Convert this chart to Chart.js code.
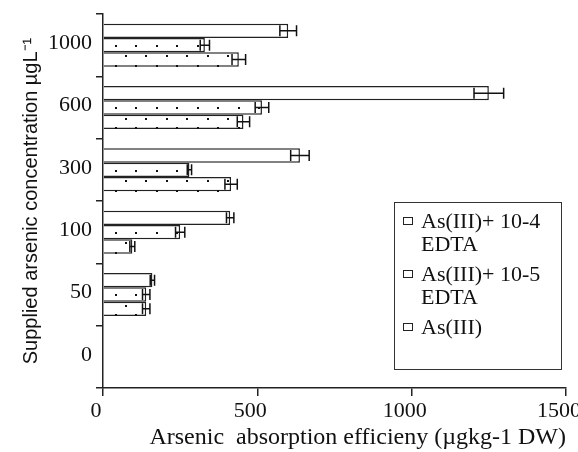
<!DOCTYPE html>
<html>
<head>
<meta charset="utf-8">
<script src="https://cdn.jsdelivr.net/npm/chart.js"></script>
<style>
  body { margin: 0; background: #fff; }
  #wrap { position: relative; width: 578px; height: 452px; }
  #legend {
    position: absolute; left: 394px; top: 202px; width: 168px; height: 168px;
    border: 1.5px solid #333; box-sizing: border-box; padding: 6px 0 0 8px;
    font-family: 'Liberation Serif', serif; font-size: 22px; color: #111;
  }
  .item { display: flex; align-items: flex-start; line-height: 23px; margin-bottom: 7px; }
  .box { width: 8px; height: 6px; border: 1.5px solid #222; margin: 8px 8px 0 0; flex: none; }
</style>
</head>
<body>
<div id="wrap">
  <canvas id="chart" width="578" height="452"></canvas>
  <div id="legend"></div>
</div>
<script>
// supplied concentration (µg/L), top to bottom
const concentrations = ['1000', '600', '300', '100', '50', '0'];
const seriesNames = ['As(III)+ 10-4 EDTA', 'As(III)+ 10-5 EDTA', 'As(III)'];

const edta4 = [600, 1250, 638, 412, 160, 0];
const edta4Err = [27, 48, 30, 12, 7, 0];
const edta5 = [330, 515, 280, 250, 140, 0];
const edta5Err = [15, 22, 7, 15, 12, 0];
const as3 = [440, 455, 415, 95, 140, 0];
const as3Err = [22, 20, 20, 8, 12, 0];

const xMax = 1500;
const xStep = 500;

const serif = 'Liberation Serif';
const ink = '#111';

// dotted fill + error bars, drawn on top of each bar
const barExtras = {
    id: 'barExtras',
    afterDatasetsDraw(chart) {
        const ctx = chart.ctx;
        const xs = chart.scales.x;
        chart.data.datasets.forEach((ds, i) => {
            const meta = chart.getDatasetMeta(i);
            meta.data.forEach((bar, j) => {
                const v = ds.data[j];
                if (!v) return;
                const top = bar.y - bar.height / 2;
                ctx.save();
                ctx.fillStyle = ink;
                (ds.dotRows || []).forEach(row => {
                    for (let x = bar.base + row.start; x < bar.x - 3; x += 20.5) {
                        ctx.fillRect(Math.round(x), Math.round(top + row.dy), 2, 2);
                    }
                });
                const e = ds.errors[j];
                const x1 = xs.getPixelForValue(v - e);
                const x2 = xs.getPixelForValue(v + e);
                ctx.strokeStyle = ink;
                ctx.lineWidth = 1.5;
                ctx.beginPath();
                ctx.moveTo(x1, bar.y); ctx.lineTo(x2, bar.y);
                ctx.moveTo(x1, bar.y - 5.5); ctx.lineTo(x1, bar.y + 5.5);
                ctx.moveTo(x2, bar.y - 5.5); ctx.lineTo(x2, bar.y + 5.5);
                ctx.stroke();
                ctx.restore();
            });
        });
    }
};

function makeSet(label, data, errors, dotRows) {
    return {
        label: label,
        data: data,
        errors: errors,
        dotRows: dotRows,
        backgroundColor: '#fff',
        borderColor: '#222',
        borderWidth: 1.5,
        categoryPercentage: 0.69,
        barPercentage: 1.0
    };
}

const chart = new Chart(document.getElementById('chart'), {
    type: 'bar',
    data: {
        labels: concentrations,
        datasets: [
            makeSet(seriesNames[0], edta4, edta4Err, []),
            makeSet(seriesNames[1], edta5, edta5Err, [{dy: 7, start: 11}]),
            makeSet(seriesNames[2], as3, as3Err, [{dy: 3, start: 21}, {dy: 12.5, start: 11}])
        ]
    },
    options: {
        indexAxis: 'y',
        responsive: false,
        animation: false,
        devicePixelRatio: 1,
        layout: { padding: { top: 14, right: 12, left: 0, bottom: 0 } },
        plugins: {
            legend: { display: false },
            tooltip: { enabled: false }
        },
        scales: {
            x: {
                type: 'linear',
                min: 0,
                max: xMax,
                grid: { drawOnChartArea: false, tickLength: 8, color: '#222', lineWidth: 1.5 },
                border: { color: '#222', width: 1.5 },
                ticks: {
                    stepSize: xStep,
                    callback: v => String(v),
                    font: { family: serif, size: 22 },
                    color: ink,
                    padding: 2,
                    labelOffset: -7,
                    maxRotation: 0,
                    autoSkip: false
                },
                title: {
                    display: true,
                    align: 'end',
                    text: 'Arsenic  absorption efficieny (µgkg-1 DW)',
                    font: { family: serif, size: 24 },
                    color: ink,
                    padding: { top: 0, bottom: 0 }
                },
                afterFit: s => { s.height = 64; s.paddingLeft = 0; s.paddingRight = 0; }
            },
            y: {
                grid: { offset: true, drawOnChartArea: false, tickLength: 7, color: '#222', lineWidth: 1.5 },
                border: { color: '#222', width: 1.5 },
                ticks: {
                    font: { family: serif, size: 22 },
                    color: ink,
                    padding: 4,
                    labelOffset: -2
                },
                title: {
                    display: true,
                    text: 'Supplied arsenic concentration µgL⁻¹',
                    font: { family: 'Liberation Sans', size: 20 },
                    color: ink,
                    padding: { top: 19, bottom: 0 }
                },
                afterFit: s => { s.width = 103; s.paddingTop = 0; s.paddingBottom = 0; }
            }
        }
    },
    plugins: [barExtras]
});

// boxed legend
const legend = document.getElementById('legend');
chart.data.datasets.forEach(ds => {
    const item = document.createElement('div');
    item.className = 'item';
    const box = document.createElement('span');
    box.className = 'box';
    const txt = document.createElement('span');
    txt.textContent = ds.label;
    item.appendChild(box);
    item.appendChild(txt);
    legend.appendChild(item);
});
</script>
</body>
</html>
